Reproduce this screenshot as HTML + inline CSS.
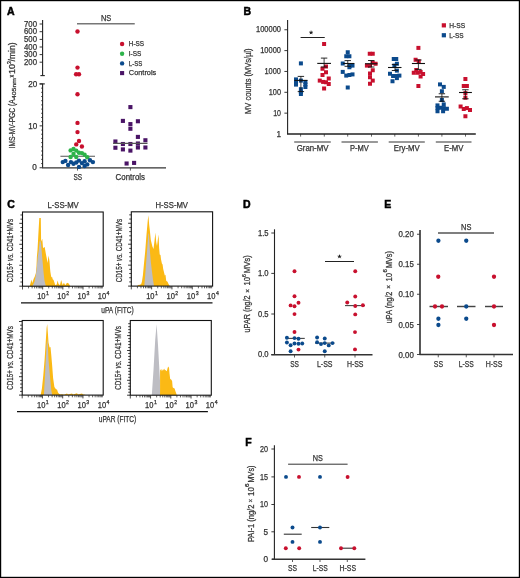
<!DOCTYPE html>
<html><head><meta charset="utf-8"><style>
html,body{margin:0;padding:0;background:#fff;}
body{width:520px;height:578px;overflow:hidden;}
svg{display:block;will-change:transform;font-family:"Liberation Sans", sans-serif;}
</style></head><body>
<svg width="520" height="578" viewBox="0 0 520 578">
<rect x="0" y="0" width="520" height="578" fill="#fff"/>
<text x="7" y="14.6" font-size="10.5" text-anchor="start" fill="#000" font-weight="bold" stroke="#000" stroke-width="0.5">A</text>
<line x1="42.6" y1="20" x2="42.6" y2="75.6" stroke="#222" stroke-width="1.1"/>
<line x1="40.4" y1="75.6" x2="44.8" y2="75.6" stroke="#222" stroke-width="1.1"/>
<line x1="39.6" y1="24" x2="42.6" y2="24" stroke="#222" stroke-width="0.9"/>
<text x="37" y="26.7" font-size="8.2" text-anchor="end" fill="#333" textLength="13" lengthAdjust="spacingAndGlyphs" stroke="#333" stroke-width="0.25">700</text>
<line x1="39.6" y1="31.7" x2="42.6" y2="31.7" stroke="#222" stroke-width="0.9"/>
<text x="37" y="34.4" font-size="8.2" text-anchor="end" fill="#333" textLength="13" lengthAdjust="spacingAndGlyphs" stroke="#333" stroke-width="0.25">600</text>
<line x1="39.6" y1="39.4" x2="42.6" y2="39.4" stroke="#222" stroke-width="0.9"/>
<text x="37" y="42.1" font-size="8.2" text-anchor="end" fill="#333" textLength="13" lengthAdjust="spacingAndGlyphs" stroke="#333" stroke-width="0.25">500</text>
<line x1="39.6" y1="47" x2="42.6" y2="47" stroke="#222" stroke-width="0.9"/>
<text x="37" y="49.7" font-size="8.2" text-anchor="end" fill="#333" textLength="13" lengthAdjust="spacingAndGlyphs" stroke="#333" stroke-width="0.25">400</text>
<line x1="39.6" y1="54.6" x2="42.6" y2="54.6" stroke="#222" stroke-width="0.9"/>
<text x="37" y="57.300000000000004" font-size="8.2" text-anchor="end" fill="#333" textLength="13" lengthAdjust="spacingAndGlyphs" stroke="#333" stroke-width="0.25">300</text>
<line x1="39.6" y1="62.2" x2="42.6" y2="62.2" stroke="#222" stroke-width="0.9"/>
<text x="37" y="64.9" font-size="8.2" text-anchor="end" fill="#333" textLength="13" lengthAdjust="spacingAndGlyphs" stroke="#333" stroke-width="0.25">200</text>
<line x1="42.6" y1="83.8" x2="42.6" y2="167.75" stroke="#222" stroke-width="1.1"/>
<line x1="39.6" y1="83.9" x2="44.8" y2="83.9" stroke="#222" stroke-width="1.1"/>
<line x1="39.6" y1="167.75" x2="42.6" y2="167.75" stroke="#222" stroke-width="0.9"/>
<line x1="41" y1="163.56" x2="42.6" y2="163.56" stroke="#222" stroke-width="0.7"/>
<line x1="41" y1="159.37" x2="42.6" y2="159.37" stroke="#222" stroke-width="0.7"/>
<line x1="41" y1="155.18" x2="42.6" y2="155.18" stroke="#222" stroke-width="0.7"/>
<line x1="41" y1="150.99" x2="42.6" y2="150.99" stroke="#222" stroke-width="0.7"/>
<line x1="41" y1="146.8" x2="42.6" y2="146.8" stroke="#222" stroke-width="0.7"/>
<line x1="41" y1="142.61" x2="42.6" y2="142.61" stroke="#222" stroke-width="0.7"/>
<line x1="41" y1="138.42" x2="42.6" y2="138.42" stroke="#222" stroke-width="0.7"/>
<line x1="41" y1="134.23" x2="42.6" y2="134.23" stroke="#222" stroke-width="0.7"/>
<line x1="41" y1="130.04" x2="42.6" y2="130.04" stroke="#222" stroke-width="0.7"/>
<line x1="39.6" y1="125.85" x2="42.6" y2="125.85" stroke="#222" stroke-width="0.9"/>
<line x1="41" y1="121.66" x2="42.6" y2="121.66" stroke="#222" stroke-width="0.7"/>
<line x1="41" y1="117.47" x2="42.6" y2="117.47" stroke="#222" stroke-width="0.7"/>
<line x1="41" y1="113.28" x2="42.6" y2="113.28" stroke="#222" stroke-width="0.7"/>
<line x1="41" y1="109.09" x2="42.6" y2="109.09" stroke="#222" stroke-width="0.7"/>
<line x1="41" y1="104.89999999999999" x2="42.6" y2="104.89999999999999" stroke="#222" stroke-width="0.7"/>
<line x1="41" y1="100.71" x2="42.6" y2="100.71" stroke="#222" stroke-width="0.7"/>
<line x1="41" y1="96.52" x2="42.6" y2="96.52" stroke="#222" stroke-width="0.7"/>
<line x1="41" y1="92.33" x2="42.6" y2="92.33" stroke="#222" stroke-width="0.7"/>
<line x1="41" y1="88.13999999999999" x2="42.6" y2="88.13999999999999" stroke="#222" stroke-width="0.7"/>
<line x1="39.6" y1="83.94999999999999" x2="42.6" y2="83.94999999999999" stroke="#222" stroke-width="0.9"/>
<text x="37.2" y="86.7" font-size="8.2" text-anchor="end" fill="#333" textLength="9" lengthAdjust="spacingAndGlyphs" stroke="#333" stroke-width="0.25">20</text>
<text x="37.2" y="128.6" font-size="8.2" text-anchor="end" fill="#333" textLength="9" lengthAdjust="spacingAndGlyphs" stroke="#333" stroke-width="0.25">10</text>
<text x="36.8" y="170.45" font-size="8.2" text-anchor="end" fill="#333" stroke="#333" stroke-width="0.25">0</text>
<line x1="42.1" y1="167.9" x2="166" y2="167.9" stroke="#333" stroke-width="1.4"/>
<line x1="77.5" y1="167.9" x2="77.5" y2="170.6" stroke="#333" stroke-width="0.8"/>
<line x1="130.4" y1="167.9" x2="130.4" y2="170.6" stroke="#333" stroke-width="0.8"/>
<text x="77.7" y="179.8" font-size="8.2" text-anchor="middle" fill="#333" textLength="8.6" lengthAdjust="spacingAndGlyphs" stroke="#333" stroke-width="0.25">SS</text>
<text x="130.3" y="179.8" font-size="8.2" text-anchor="middle" fill="#333" textLength="29.4" lengthAdjust="spacingAndGlyphs" stroke="#333" stroke-width="0.25">Controls</text>
<line x1="77" y1="23.8" x2="134.75" y2="23.8" stroke="#777" stroke-width="1.5"/>
<text x="106.1" y="20.7" font-size="8.2" text-anchor="middle" fill="#333" textLength="10.3" lengthAdjust="spacingAndGlyphs" stroke="#333" stroke-width="0.25">NS</text>
<text x="0" y="0" font-size="8.4" fill="#333" stroke="#333" stroke-width="0.25" transform="translate(15.2 148.3) rotate(-90)" textLength="48.90" lengthAdjust="spacingAndGlyphs">IMS-MV-PGC (A</text>
<text x="0" y="0" font-size="5.2" fill="#333" stroke="#333" stroke-width="0.25" transform="translate(15.8 98.9) rotate(-90)" textLength="20.70" lengthAdjust="spacingAndGlyphs">405nm</text>
<text x="0" y="0" font-size="8.4" fill="#333" stroke="#333" stroke-width="0.25" transform="translate(15.2 77.8) rotate(-90)" textLength="3.20" lengthAdjust="spacingAndGlyphs">×</text>
<text x="0" y="0" font-size="8.4" fill="#333" stroke="#333" stroke-width="0.25" transform="translate(15.2 74.0) rotate(-90)" textLength="10.00" lengthAdjust="spacingAndGlyphs">10</text>
<text x="0" y="0" font-size="5.2" fill="#333" stroke="#333" stroke-width="0.25" transform="translate(10.9 64.0) rotate(-90)" textLength="2.80" lengthAdjust="spacingAndGlyphs">3</text>
<text x="0" y="0" font-size="8.4" fill="#333" stroke="#333" stroke-width="0.25" transform="translate(15.2 61.4) rotate(-90)" textLength="19.00" lengthAdjust="spacingAndGlyphs">/min)</text>
<circle cx="122.1" cy="44.0" r="2.2" fill="#C8102E"/>
<text x="128.8" y="46.2" font-size="7.3" text-anchor="start" fill="#333" textLength="15.3" lengthAdjust="spacingAndGlyphs" stroke="#333" stroke-width="0.25">H-SS</text>
<circle cx="122.1" cy="53.8" r="2.2" fill="#2DB34A"/>
<text x="128.8" y="56.0" font-size="7.3" text-anchor="start" fill="#333" textLength="12.5" lengthAdjust="spacingAndGlyphs" stroke="#333" stroke-width="0.25">I-SS</text>
<circle cx="122.1" cy="63.4" r="2.2" fill="#0B4A8C"/>
<text x="128.8" y="65.6" font-size="7.3" text-anchor="start" fill="#333" textLength="13.5" lengthAdjust="spacingAndGlyphs" stroke="#333" stroke-width="0.25">L-SS</text>
<rect x="120.05" y="71.05" width="4.1" height="4.1" fill="#4A1466"/>
<text x="128.8" y="75.3" font-size="7.3" text-anchor="start" fill="#333" textLength="27.5" lengthAdjust="spacingAndGlyphs" stroke="#333" stroke-width="0.25">Controls</text>
<circle cx="77.5" cy="31.5" r="2.2" fill="#C8102E"/>
<circle cx="77.5" cy="67.6" r="2.2" fill="#C8102E"/>
<circle cx="76.1" cy="74.3" r="2.2" fill="#C8102E"/>
<circle cx="79" cy="74.3" r="2.2" fill="#C8102E"/>
<circle cx="77.5" cy="94.3" r="2.2" fill="#C8102E"/>
<circle cx="77.5" cy="122.9" r="2.2" fill="#C8102E"/>
<circle cx="77.5" cy="132.1" r="2.2" fill="#C8102E"/>
<circle cx="79" cy="141" r="2.2" fill="#C8102E"/>
<circle cx="76.25" cy="144.4" r="2.2" fill="#C8102E"/>
<circle cx="81.9" cy="146.5" r="2.2" fill="#C8102E"/>
<line x1="60.4" y1="156.25" x2="95" y2="156.25" stroke="#555" stroke-width="1.2"/>
<circle cx="70.6" cy="150.4" r="2.2" fill="#2DB34A"/>
<circle cx="73.5" cy="149" r="2.2" fill="#2DB34A"/>
<circle cx="76.25" cy="150.6" r="2.2" fill="#2DB34A"/>
<circle cx="79" cy="152.75" r="2.2" fill="#2DB34A"/>
<circle cx="81.9" cy="153.1" r="2.2" fill="#2DB34A"/>
<circle cx="84.6" cy="154.75" r="2.2" fill="#2DB34A"/>
<circle cx="87.25" cy="157.25" r="2.2" fill="#2DB34A"/>
<circle cx="73.5" cy="154" r="2.2" fill="#2DB34A"/>
<circle cx="70.6" cy="157" r="2.2" fill="#2DB34A"/>
<circle cx="76.25" cy="157" r="2.2" fill="#2DB34A"/>
<circle cx="62.75" cy="162.1" r="2.2" fill="#0B4A8C"/>
<circle cx="65.4" cy="160.9" r="2.2" fill="#0B4A8C"/>
<circle cx="68.1" cy="165" r="2.2" fill="#0B4A8C"/>
<circle cx="70.9" cy="162.1" r="2.2" fill="#0B4A8C"/>
<circle cx="73.5" cy="163.75" r="2.2" fill="#0B4A8C"/>
<circle cx="76.25" cy="162.5" r="2.2" fill="#0B4A8C"/>
<circle cx="79" cy="160.6" r="2.2" fill="#0B4A8C"/>
<circle cx="79" cy="166.9" r="2.2" fill="#0B4A8C"/>
<circle cx="81.9" cy="163.1" r="2.2" fill="#0B4A8C"/>
<circle cx="84.6" cy="161.25" r="2.2" fill="#0B4A8C"/>
<circle cx="84.6" cy="166" r="2.2" fill="#0B4A8C"/>
<circle cx="87.25" cy="164.4" r="2.2" fill="#0B4A8C"/>
<circle cx="90" cy="160.25" r="2.2" fill="#0B4A8C"/>
<circle cx="92.9" cy="162.1" r="2.2" fill="#0B4A8C"/>
<rect x="128.35" y="105.05" width="4.1" height="4.1" fill="#4A1466"/>
<rect x="120.85" y="118.85" width="4.1" height="4.1" fill="#4A1466"/>
<rect x="135.85" y="119.20" width="4.1" height="4.1" fill="#4A1466"/>
<rect x="128.35" y="122.05" width="4.1" height="4.1" fill="#4A1466"/>
<rect x="128.35" y="126.70" width="4.1" height="4.1" fill="#4A1466"/>
<rect x="135.85" y="134.85" width="4.1" height="4.1" fill="#4A1466"/>
<rect x="113.35" y="139.45" width="4.1" height="4.1" fill="#4A1466"/>
<rect x="143.35" y="138.20" width="4.1" height="4.1" fill="#4A1466"/>
<rect x="120.85" y="141.95" width="4.1" height="4.1" fill="#4A1466"/>
<rect x="128.35" y="141.95" width="4.1" height="4.1" fill="#4A1466"/>
<rect x="135.85" y="141.45" width="4.1" height="4.1" fill="#4A1466"/>
<rect x="135.85" y="145.45" width="4.1" height="4.1" fill="#4A1466"/>
<rect x="113.35" y="145.70" width="4.1" height="4.1" fill="#4A1466"/>
<rect x="120.85" y="147.35" width="4.1" height="4.1" fill="#4A1466"/>
<rect x="128.35" y="148.55" width="4.1" height="4.1" fill="#4A1466"/>
<rect x="143.35" y="145.45" width="4.1" height="4.1" fill="#4A1466"/>
<rect x="124.55" y="161.45" width="4.1" height="4.1" fill="#4A1466"/>
<rect x="132.05" y="160.85" width="4.1" height="4.1" fill="#4A1466"/>
<line x1="113.1" y1="143.4" x2="147.5" y2="143.4" stroke="#555" stroke-width="1.2"/>
<text x="243.4" y="14.6" font-size="10.5" text-anchor="start" fill="#000" font-weight="bold" stroke="#000" stroke-width="0.5">B</text>
<line x1="287.6" y1="20" x2="287.6" y2="134.3" stroke="#222" stroke-width="1.1"/>
<text x="281" y="136.7" font-size="8.2" text-anchor="end" fill="#333" stroke="#333" stroke-width="0.25">1</text>
<line x1="284.4" y1="113.15" x2="287.6" y2="113.15" stroke="#222" stroke-width="0.9"/>
<text x="281" y="115.85000000000001" font-size="8.2" text-anchor="end" fill="#333" textLength="7.8" lengthAdjust="spacingAndGlyphs" stroke="#333" stroke-width="0.25">10</text>
<line x1="284.4" y1="92.3" x2="287.6" y2="92.3" stroke="#222" stroke-width="0.9"/>
<text x="281" y="95.0" font-size="8.2" text-anchor="end" fill="#333" textLength="12.3" lengthAdjust="spacingAndGlyphs" stroke="#333" stroke-width="0.25">100</text>
<line x1="284.4" y1="71.44999999999999" x2="287.6" y2="71.44999999999999" stroke="#222" stroke-width="0.9"/>
<text x="281" y="74.14999999999999" font-size="8.2" text-anchor="end" fill="#333" textLength="16.5" lengthAdjust="spacingAndGlyphs" stroke="#333" stroke-width="0.25">1000</text>
<line x1="284.4" y1="50.599999999999994" x2="287.6" y2="50.599999999999994" stroke="#222" stroke-width="0.9"/>
<text x="281" y="53.3" font-size="8.2" text-anchor="end" fill="#333" textLength="20.8" lengthAdjust="spacingAndGlyphs" stroke="#333" stroke-width="0.25">10000</text>
<line x1="284.4" y1="29.75" x2="287.6" y2="29.75" stroke="#222" stroke-width="0.9"/>
<text x="281" y="32.45" font-size="8.2" text-anchor="end" fill="#333" textLength="25" lengthAdjust="spacingAndGlyphs" stroke="#333" stroke-width="0.25">100000</text>
<line x1="287.1" y1="134" x2="475.8" y2="134" stroke="#222" stroke-width="1.3"/>
<line x1="300.6" y1="134" x2="300.6" y2="136.6" stroke="#222" stroke-width="0.7"/>
<line x1="324.3" y1="134" x2="324.3" y2="136.6" stroke="#222" stroke-width="0.7"/>
<line x1="347.7" y1="134" x2="347.7" y2="136.6" stroke="#222" stroke-width="0.7"/>
<line x1="371.5" y1="134" x2="371.5" y2="136.6" stroke="#222" stroke-width="0.7"/>
<line x1="394.8" y1="134" x2="394.8" y2="136.6" stroke="#222" stroke-width="0.7"/>
<line x1="418.4" y1="134" x2="418.4" y2="136.6" stroke="#222" stroke-width="0.7"/>
<line x1="441.9" y1="134" x2="441.9" y2="136.6" stroke="#222" stroke-width="0.7"/>
<line x1="465.5" y1="134" x2="465.5" y2="136.6" stroke="#222" stroke-width="0.7"/>
<line x1="294.2" y1="142" x2="330.8" y2="142" stroke="#777" stroke-width="1.3"/>
<line x1="341.5" y1="142" x2="377.9" y2="142" stroke="#777" stroke-width="1.3"/>
<line x1="388.7" y1="142" x2="424.8" y2="142" stroke="#777" stroke-width="1.3"/>
<line x1="435.8" y1="142" x2="471.5" y2="142" stroke="#777" stroke-width="1.3"/>
<text x="312.6" y="151.1" font-size="8.2" text-anchor="middle" fill="#333" textLength="31.8" lengthAdjust="spacingAndGlyphs" stroke="#333" stroke-width="0.25">Gran-MV</text>
<text x="359.4" y="151.1" font-size="8.2" text-anchor="middle" fill="#333" textLength="18.8" lengthAdjust="spacingAndGlyphs" stroke="#333" stroke-width="0.25">P-MV</text>
<text x="406.8" y="151.1" font-size="8.2" text-anchor="middle" fill="#333" textLength="26" lengthAdjust="spacingAndGlyphs" stroke="#333" stroke-width="0.25">Ery-MV</text>
<text x="453.65" y="151.1" font-size="8.2" text-anchor="middle" fill="#333" textLength="19.3" lengthAdjust="spacingAndGlyphs" stroke="#333" stroke-width="0.25">E-MV</text>
<text x="0" y="0" font-size="9.0" fill="#333" stroke="#333" stroke-width="0.25" transform="translate(251.0 113.9) rotate(-90)" textLength="65.4" lengthAdjust="spacingAndGlyphs">MV counts (MVs/µl)</text>
<line x1="300.6" y1="37.5" x2="324.75" y2="37.5" stroke="#222" stroke-width="1"/>
<line x1="311.1" y1="32.6" x2="311.10" y2="31.10" stroke="#222" stroke-width="1.0" stroke-linecap="round"/>
<line x1="311.1" y1="32.6" x2="312.53" y2="32.14" stroke="#222" stroke-width="1.0" stroke-linecap="round"/>
<line x1="311.1" y1="32.6" x2="311.98" y2="33.81" stroke="#222" stroke-width="1.0" stroke-linecap="round"/>
<line x1="311.1" y1="32.6" x2="310.22" y2="33.81" stroke="#222" stroke-width="1.0" stroke-linecap="round"/>
<line x1="311.1" y1="32.6" x2="309.67" y2="32.14" stroke="#222" stroke-width="1.0" stroke-linecap="round"/>
<rect x="441.75" y="23.25" width="4.2" height="4.2" fill="#C8102E"/>
<rect x="441.75" y="33.15" width="4.2" height="4.2" fill="#0B4A8C"/>
<text x="449.2" y="27.8" font-size="7.3" text-anchor="start" fill="#333" textLength="15.9" lengthAdjust="spacingAndGlyphs" stroke="#333" stroke-width="0.25">H-SS</text>
<text x="449.2" y="37.7" font-size="7.3" text-anchor="start" fill="#333" textLength="14.4" lengthAdjust="spacingAndGlyphs" stroke="#333" stroke-width="0.25">L-SS</text>
<rect x="298.90" y="61.40" width="4.0" height="4.0" fill="#0B4A8C"/>
<rect x="294.00" y="77.40" width="4.0" height="4.0" fill="#0B4A8C"/>
<rect x="294.00" y="80.00" width="4.0" height="4.0" fill="#0B4A8C"/>
<rect x="294.00" y="82.60" width="4.0" height="4.0" fill="#0B4A8C"/>
<rect x="298.90" y="78.60" width="4.0" height="4.0" fill="#0B4A8C"/>
<rect x="303.40" y="80.00" width="4.0" height="4.0" fill="#0B4A8C"/>
<rect x="303.40" y="82.50" width="4.0" height="4.0" fill="#0B4A8C"/>
<rect x="303.40" y="85.00" width="4.0" height="4.0" fill="#0B4A8C"/>
<rect x="298.90" y="87.20" width="4.0" height="4.0" fill="#0B4A8C"/>
<rect x="298.90" y="90.00" width="4.0" height="4.0" fill="#0B4A8C"/>
<rect x="298.90" y="92.00" width="4.0" height="4.0" fill="#0B4A8C"/>
<line x1="294.4" y1="80.4" x2="307.5" y2="80.4" stroke="#111" stroke-width="1.1"/>
<line x1="300.9" y1="76.4" x2="300.9" y2="91.6" stroke="#111" stroke-width="0.8"/>
<line x1="297.7" y1="76.4" x2="304.09999999999997" y2="76.4" stroke="#111" stroke-width="0.9"/>
<line x1="297.7" y1="91.6" x2="304.09999999999997" y2="91.6" stroke="#111" stroke-width="0.9"/>
<rect x="322.10" y="42.00" width="4.0" height="4.0" fill="#C8102E"/>
<rect x="324.00" y="64.50" width="4.0" height="4.0" fill="#C8102E"/>
<rect x="320.50" y="66.75" width="4.0" height="4.0" fill="#C8102E"/>
<rect x="324.00" y="70.25" width="4.0" height="4.0" fill="#C8102E"/>
<rect x="320.50" y="73.00" width="4.0" height="4.0" fill="#C8102E"/>
<rect x="326.75" y="76.50" width="4.0" height="4.0" fill="#C8102E"/>
<rect x="317.75" y="78.60" width="4.0" height="4.0" fill="#C8102E"/>
<rect x="321.10" y="79.90" width="4.0" height="4.0" fill="#C8102E"/>
<rect x="324.00" y="80.25" width="4.0" height="4.0" fill="#C8102E"/>
<rect x="326.75" y="82.00" width="4.0" height="4.0" fill="#C8102E"/>
<rect x="322.10" y="86.50" width="4.0" height="4.0" fill="#C8102E"/>
<line x1="317.25" y1="63.4" x2="331" y2="63.4" stroke="#111" stroke-width="1.1"/>
<line x1="324.1" y1="58.1" x2="324.1" y2="67" stroke="#111" stroke-width="0.8"/>
<line x1="320.90000000000003" y1="58.1" x2="327.3" y2="58.1" stroke="#111" stroke-width="0.9"/>
<line x1="320.90000000000003" y1="67" x2="327.3" y2="67" stroke="#111" stroke-width="0.9"/>
<rect x="345.75" y="50.25" width="4.0" height="4.0" fill="#0B4A8C"/>
<rect x="344.25" y="54.25" width="4.0" height="4.0" fill="#0B4A8C"/>
<rect x="347.40" y="54.25" width="4.0" height="4.0" fill="#0B4A8C"/>
<rect x="340.75" y="61.50" width="4.0" height="4.0" fill="#0B4A8C"/>
<rect x="348.00" y="63.60" width="4.0" height="4.0" fill="#0B4A8C"/>
<rect x="350.50" y="63.60" width="4.0" height="4.0" fill="#0B4A8C"/>
<rect x="347.40" y="65.25" width="4.0" height="4.0" fill="#0B4A8C"/>
<rect x="340.75" y="69.90" width="4.0" height="4.0" fill="#0B4A8C"/>
<rect x="344.25" y="73.60" width="4.0" height="4.0" fill="#0B4A8C"/>
<rect x="347.40" y="73.00" width="4.0" height="4.0" fill="#0B4A8C"/>
<rect x="350.50" y="72.40" width="4.0" height="4.0" fill="#0B4A8C"/>
<rect x="345.75" y="85.50" width="4.0" height="4.0" fill="#0B4A8C"/>
<line x1="343.1" y1="63.5" x2="354.4" y2="63.5" stroke="#111" stroke-width="1.1"/>
<line x1="347.75" y1="60.6" x2="347.75" y2="66.3" stroke="#111" stroke-width="0.8"/>
<line x1="344.55" y1="60.6" x2="350.95" y2="60.6" stroke="#111" stroke-width="0.9"/>
<line x1="344.55" y1="66.3" x2="350.95" y2="66.3" stroke="#111" stroke-width="0.9"/>
<rect x="367.75" y="51.75" width="4.0" height="4.0" fill="#C8102E"/>
<rect x="370.75" y="51.75" width="4.0" height="4.0" fill="#C8102E"/>
<rect x="370.75" y="60.75" width="4.0" height="4.0" fill="#C8102E"/>
<rect x="373.60" y="61.75" width="4.0" height="4.0" fill="#C8102E"/>
<rect x="364.90" y="63.60" width="4.0" height="4.0" fill="#C8102E"/>
<rect x="368.00" y="63.60" width="4.0" height="4.0" fill="#C8102E"/>
<rect x="370.75" y="68.25" width="4.0" height="4.0" fill="#C8102E"/>
<rect x="368.00" y="71.50" width="4.0" height="4.0" fill="#C8102E"/>
<rect x="368.00" y="75.25" width="4.0" height="4.0" fill="#C8102E"/>
<rect x="370.75" y="78.60" width="4.0" height="4.0" fill="#C8102E"/>
<rect x="368.00" y="81.75" width="4.0" height="4.0" fill="#C8102E"/>
<line x1="365" y1="63.75" x2="377.5" y2="63.75" stroke="#111" stroke-width="1.1"/>
<line x1="371.25" y1="60.5" x2="371.25" y2="67" stroke="#111" stroke-width="0.8"/>
<line x1="368.05" y1="60.5" x2="374.45" y2="60.5" stroke="#111" stroke-width="0.9"/>
<line x1="368.05" y1="67" x2="374.45" y2="67" stroke="#111" stroke-width="0.9"/>
<rect x="391.75" y="57.00" width="4.0" height="4.0" fill="#0B4A8C"/>
<rect x="394.25" y="57.00" width="4.0" height="4.0" fill="#0B4A8C"/>
<rect x="394.90" y="61.75" width="4.0" height="4.0" fill="#0B4A8C"/>
<rect x="392.40" y="63.60" width="4.0" height="4.0" fill="#0B4A8C"/>
<rect x="394.90" y="68.60" width="4.0" height="4.0" fill="#0B4A8C"/>
<rect x="388.00" y="71.75" width="4.0" height="4.0" fill="#0B4A8C"/>
<rect x="391.10" y="74.00" width="4.0" height="4.0" fill="#0B4A8C"/>
<rect x="394.25" y="74.00" width="4.0" height="4.0" fill="#0B4A8C"/>
<rect x="397.40" y="73.60" width="4.0" height="4.0" fill="#0B4A8C"/>
<rect x="394.90" y="76.10" width="4.0" height="4.0" fill="#0B4A8C"/>
<rect x="390.50" y="79.25" width="4.0" height="4.0" fill="#0B4A8C"/>
<line x1="388" y1="67.5" x2="401.5" y2="67.5" stroke="#111" stroke-width="1.1"/>
<line x1="395" y1="64.5" x2="395" y2="70.5" stroke="#111" stroke-width="0.8"/>
<line x1="391.8" y1="64.5" x2="398.2" y2="64.5" stroke="#111" stroke-width="0.9"/>
<line x1="391.8" y1="70.5" x2="398.2" y2="70.5" stroke="#111" stroke-width="0.9"/>
<rect x="416.40" y="45.90" width="4.0" height="4.0" fill="#C8102E"/>
<rect x="413.60" y="57.75" width="4.0" height="4.0" fill="#C8102E"/>
<rect x="416.75" y="59.25" width="4.0" height="4.0" fill="#C8102E"/>
<rect x="414.25" y="68.00" width="4.0" height="4.0" fill="#C8102E"/>
<rect x="411.75" y="70.75" width="4.0" height="4.0" fill="#C8102E"/>
<rect x="415.50" y="70.75" width="4.0" height="4.0" fill="#C8102E"/>
<rect x="418.60" y="69.90" width="4.0" height="4.0" fill="#C8102E"/>
<rect x="421.10" y="72.00" width="4.0" height="4.0" fill="#C8102E"/>
<rect x="418.60" y="74.50" width="4.0" height="4.0" fill="#C8102E"/>
<rect x="416.40" y="84.00" width="4.0" height="4.0" fill="#C8102E"/>
<line x1="411.9" y1="63.5" x2="425" y2="63.5" stroke="#111" stroke-width="1.1"/>
<line x1="418.4" y1="60" x2="418.4" y2="69.4" stroke="#111" stroke-width="0.8"/>
<line x1="415.2" y1="60" x2="421.59999999999997" y2="60" stroke="#111" stroke-width="0.9"/>
<line x1="415.2" y1="69.4" x2="421.59999999999997" y2="69.4" stroke="#111" stroke-width="0.9"/>
<rect x="438.00" y="82.40" width="4.0" height="4.0" fill="#0B4A8C"/>
<rect x="441.75" y="84.90" width="4.0" height="4.0" fill="#0B4A8C"/>
<rect x="439.90" y="89.25" width="4.0" height="4.0" fill="#0B4A8C"/>
<rect x="439.90" y="98.00" width="4.0" height="4.0" fill="#0B4A8C"/>
<rect x="435.50" y="103.40" width="4.0" height="4.0" fill="#0B4A8C"/>
<rect x="441.75" y="102.40" width="4.0" height="4.0" fill="#0B4A8C"/>
<rect x="435.50" y="106.10" width="4.0" height="4.0" fill="#0B4A8C"/>
<rect x="438.60" y="105.75" width="4.0" height="4.0" fill="#0B4A8C"/>
<rect x="441.75" y="106.10" width="4.0" height="4.0" fill="#0B4A8C"/>
<rect x="444.90" y="106.75" width="4.0" height="4.0" fill="#0B4A8C"/>
<rect x="435.50" y="109.25" width="4.0" height="4.0" fill="#0B4A8C"/>
<rect x="441.10" y="109.25" width="4.0" height="4.0" fill="#0B4A8C"/>
<line x1="435" y1="96.9" x2="448.75" y2="96.9" stroke="#111" stroke-width="1.1"/>
<line x1="441.9" y1="93.75" x2="441.9" y2="101.25" stroke="#111" stroke-width="0.8"/>
<line x1="438.7" y1="93.75" x2="445.09999999999997" y2="93.75" stroke="#111" stroke-width="0.9"/>
<line x1="438.7" y1="101.25" x2="445.09999999999997" y2="101.25" stroke="#111" stroke-width="0.9"/>
<rect x="463.40" y="77.00" width="4.0" height="4.0" fill="#C8102E"/>
<rect x="461.75" y="84.00" width="4.0" height="4.0" fill="#C8102E"/>
<rect x="464.90" y="84.00" width="4.0" height="4.0" fill="#C8102E"/>
<rect x="463.40" y="91.10" width="4.0" height="4.0" fill="#C8102E"/>
<rect x="463.40" y="95.75" width="4.0" height="4.0" fill="#C8102E"/>
<rect x="458.60" y="104.50" width="4.0" height="4.0" fill="#C8102E"/>
<rect x="461.75" y="107.00" width="4.0" height="4.0" fill="#C8102E"/>
<rect x="464.90" y="106.10" width="4.0" height="4.0" fill="#C8102E"/>
<rect x="468.00" y="108.00" width="4.0" height="4.0" fill="#C8102E"/>
<rect x="463.40" y="114.25" width="4.0" height="4.0" fill="#C8102E"/>
<line x1="459" y1="92.5" x2="471.9" y2="92.5" stroke="#111" stroke-width="1.1"/>
<line x1="465.4" y1="89.75" x2="465.4" y2="98.75" stroke="#111" stroke-width="0.8"/>
<line x1="462.2" y1="89.75" x2="468.59999999999997" y2="89.75" stroke="#111" stroke-width="0.9"/>
<line x1="462.2" y1="98.75" x2="468.59999999999997" y2="98.75" stroke="#111" stroke-width="0.9"/>
<text x="7.3" y="207.6" font-size="10.5" text-anchor="start" fill="#000" font-weight="bold" stroke="#000" stroke-width="0.5">C</text>
<text x="63.1" y="208.2" font-size="8.2" text-anchor="middle" fill="#333" textLength="31.3" lengthAdjust="spacingAndGlyphs" stroke="#333" stroke-width="0.25">L-SS-MV</text>
<text x="171.75" y="208.2" font-size="8.2" text-anchor="middle" fill="#333" textLength="32.5" lengthAdjust="spacingAndGlyphs" stroke="#333" stroke-width="0.25">H-SS-MV</text>
<polygon points="29.60,286.20 30.60,283.00 31.30,279.60 32.25,282.90 33.60,279.00 34.90,276.30 35.90,273.00 36.50,266.40 36.90,256.60 37.50,250.00 38.50,231.70 39.30,218.00 40.80,218.00 41.10,241.40 42.30,238.70 43.00,247.50 43.60,248.00 44.60,246.80 45.20,250.00 45.90,254.00 46.80,258.50 47.50,263.00 48.60,255.40 49.50,261.20 50.00,268.00 50.40,272.00 51.30,277.40 52.00,276.50 52.70,279.20 53.60,280.10 54.50,282.80 55.40,285.30 56.70,284.60 57.60,280.60 58.50,283.70 59.90,285.30 61.20,280.10 62.60,285.00 63.90,282.80 65.30,285.30 66.60,283.30 68.00,282.80 69.80,285.30 70.30,286.20" fill="#FBB915"/>
<polygon points="32.40,286.20 34.60,281.60 35.90,275.00 36.90,266.40 37.80,256.60 38.80,250.00 39.60,242.00 40.10,240.30 41.00,243.20 42.30,258.50 43.70,273.80 44.40,280.00 45.00,282.80 45.90,286.20" fill="#BDBDC3"/>
<polygon points="137.50,286.00 138.00,285.00 140.00,284.80 141.20,284.00 141.90,281.70 142.90,275.20 143.90,264.60 145.20,251.50 146.50,234.40 147.80,219.90 148.40,215.30 149.20,225.00 149.80,230.00 150.80,240.00 152.40,246.40 153.50,249.10 154.60,240.00 155.40,232.40 156.20,242.10 157.00,245.90 157.80,240.00 158.60,234.60 159.10,247.50 159.70,254.40 160.50,255.00 161.00,259.30 161.90,263.60 162.60,264.60 163.20,268.90 163.70,271.00 164.80,275.40 165.50,274.80 166.20,280.70 167.50,281.80 168.50,283.90 169.80,285.90 170.20,286.10" fill="#FBB915"/>
<polygon points="144.30,286.00 145.20,275.20 146.50,258.00 147.80,241.00 148.50,233.00 149.00,234.50 149.80,249.60 150.80,261.40 151.90,271.00 153.00,279.60 154.00,286.00" fill="#BDBDC3"/>
<polygon points="40.60,395.00 40.90,393.70 41.90,388.40 43.30,375.30 44.60,359.50 45.60,343.70 46.60,327.90 47.20,324.00 47.90,333.20 48.50,342.40 49.60,347.60 50.50,347.00 51.20,354.20 52.20,366.00 53.10,377.90 54.40,387.10 55.80,389.10 57.10,389.70 58.00,392.40 59.00,393.70 60.40,394.60 62.00,394.20 64.00,394.80 67.00,393.60 68.00,394.60 72.00,393.40 73.00,394.60 77.00,393.20 78.00,394.60 82.00,393.40 83.00,394.60 85.00,394.80 85.50,395.00" fill="#FBB915"/>
<polygon points="43.90,395.00 44.80,379.20 45.60,363.40 46.60,346.30 47.20,338.50 47.90,346.30 48.50,359.50 49.60,372.60 50.50,381.80 51.40,391.00 52.20,395.00" fill="#BDBDC3"/>
<polygon points="151.80,395.20 153.50,370.00 155.20,340.00 156.60,324.20 158.00,345.00 159.50,372.00 160.80,395.20" fill="#BDBDC3"/>
<polygon points="160.07,395.20 160.07,370.60 160.76,369.49 161.45,369.21 161.87,371.29 162.56,369.90 163.25,368.93 163.81,370.60 164.36,368.52 164.91,370.32 165.61,369.90 166.30,371.29 166.99,370.60 167.68,367.83 168.37,366.44 169.07,368.10 169.48,373.36 170.17,378.90 171.14,379.59 172.11,380.98 172.66,387.20 173.49,387.90 174.60,388.59 175.43,391.36 176.26,393.43 176.82,395.20" fill="#FBB915"/>
<rect x="22.5" y="212" width="80.7" height="74.19999999999999" fill="none" stroke="#111" stroke-width="1.1"/>
<line x1="19.3" y1="286.2" x2="22.5" y2="286.2" stroke="#111" stroke-width="0.85"/>
<line x1="20.4" y1="282.01" x2="22.5" y2="282.01" stroke="#111" stroke-width="0.8"/>
<line x1="20.4" y1="277.82" x2="22.5" y2="277.82" stroke="#111" stroke-width="0.8"/>
<line x1="20.4" y1="273.63" x2="22.5" y2="273.63" stroke="#111" stroke-width="0.8"/>
<line x1="20.4" y1="269.44" x2="22.5" y2="269.44" stroke="#111" stroke-width="0.8"/>
<line x1="19.3" y1="265.25" x2="22.5" y2="265.25" stroke="#111" stroke-width="0.85"/>
<line x1="20.4" y1="261.06" x2="22.5" y2="261.06" stroke="#111" stroke-width="0.8"/>
<line x1="20.4" y1="256.87" x2="22.5" y2="256.87" stroke="#111" stroke-width="0.8"/>
<line x1="20.4" y1="252.67999999999998" x2="22.5" y2="252.67999999999998" stroke="#111" stroke-width="0.8"/>
<line x1="20.4" y1="248.48999999999998" x2="22.5" y2="248.48999999999998" stroke="#111" stroke-width="0.8"/>
<line x1="19.3" y1="244.29999999999998" x2="22.5" y2="244.29999999999998" stroke="#111" stroke-width="0.85"/>
<line x1="20.4" y1="240.10999999999999" x2="22.5" y2="240.10999999999999" stroke="#111" stroke-width="0.8"/>
<line x1="20.4" y1="235.92" x2="22.5" y2="235.92" stroke="#111" stroke-width="0.8"/>
<line x1="20.4" y1="231.73" x2="22.5" y2="231.73" stroke="#111" stroke-width="0.8"/>
<line x1="20.4" y1="227.54" x2="22.5" y2="227.54" stroke="#111" stroke-width="0.8"/>
<line x1="19.3" y1="223.34999999999997" x2="22.5" y2="223.34999999999997" stroke="#111" stroke-width="0.85"/>
<line x1="20.4" y1="219.15999999999997" x2="22.5" y2="219.15999999999997" stroke="#111" stroke-width="0.8"/>
<line x1="20.4" y1="214.96999999999997" x2="22.5" y2="214.96999999999997" stroke="#111" stroke-width="0.8"/>
<line x1="22.5" y1="286.2" x2="22.5" y2="289.5" stroke="#222" stroke-width="0.8"/>
<line x1="28.57328016252082" y1="286.2" x2="28.57328016252082" y2="288.4" stroke="#222" stroke-width="0.7"/>
<line x1="32.12592131396919" y1="286.2" x2="32.12592131396919" y2="288.4" stroke="#222" stroke-width="0.7"/>
<line x1="34.64656032504164" y1="286.2" x2="34.64656032504164" y2="288.4" stroke="#222" stroke-width="0.7"/>
<line x1="36.60171983747918" y1="286.2" x2="36.60171983747918" y2="288.4" stroke="#222" stroke-width="0.7"/>
<line x1="38.19920147649001" y1="286.2" x2="38.19920147649001" y2="288.4" stroke="#222" stroke-width="0.7"/>
<line x1="39.54985295728763" y1="286.2" x2="39.54985295728763" y2="288.4" stroke="#222" stroke-width="0.7"/>
<line x1="40.719840487562465" y1="286.2" x2="40.719840487562465" y2="288.4" stroke="#222" stroke-width="0.7"/>
<line x1="41.75184262793838" y1="286.2" x2="41.75184262793838" y2="288.4" stroke="#222" stroke-width="0.7"/>
<line x1="42.675" y1="286.2" x2="42.675" y2="289.5" stroke="#222" stroke-width="0.8"/>
<line x1="48.74828016252082" y1="286.2" x2="48.74828016252082" y2="288.4" stroke="#222" stroke-width="0.7"/>
<line x1="52.30092131396919" y1="286.2" x2="52.30092131396919" y2="288.4" stroke="#222" stroke-width="0.7"/>
<line x1="54.821560325041645" y1="286.2" x2="54.821560325041645" y2="288.4" stroke="#222" stroke-width="0.7"/>
<line x1="56.77671983747918" y1="286.2" x2="56.77671983747918" y2="288.4" stroke="#222" stroke-width="0.7"/>
<line x1="58.374201476490015" y1="286.2" x2="58.374201476490015" y2="288.4" stroke="#222" stroke-width="0.7"/>
<line x1="59.72485295728764" y1="286.2" x2="59.72485295728764" y2="288.4" stroke="#222" stroke-width="0.7"/>
<line x1="60.89484048756246" y1="286.2" x2="60.89484048756246" y2="288.4" stroke="#222" stroke-width="0.7"/>
<line x1="61.92684262793838" y1="286.2" x2="61.92684262793838" y2="288.4" stroke="#222" stroke-width="0.7"/>
<line x1="62.85" y1="286.2" x2="62.85" y2="289.5" stroke="#222" stroke-width="0.8"/>
<line x1="68.92328016252083" y1="286.2" x2="68.92328016252083" y2="288.4" stroke="#222" stroke-width="0.7"/>
<line x1="72.4759213139692" y1="286.2" x2="72.4759213139692" y2="288.4" stroke="#222" stroke-width="0.7"/>
<line x1="74.99656032504164" y1="286.2" x2="74.99656032504164" y2="288.4" stroke="#222" stroke-width="0.7"/>
<line x1="76.95171983747917" y1="286.2" x2="76.95171983747917" y2="288.4" stroke="#222" stroke-width="0.7"/>
<line x1="78.54920147649003" y1="286.2" x2="78.54920147649003" y2="288.4" stroke="#222" stroke-width="0.7"/>
<line x1="79.89985295728764" y1="286.2" x2="79.89985295728764" y2="288.4" stroke="#222" stroke-width="0.7"/>
<line x1="81.06984048756246" y1="286.2" x2="81.06984048756246" y2="288.4" stroke="#222" stroke-width="0.7"/>
<line x1="82.10184262793838" y1="286.2" x2="82.10184262793838" y2="288.4" stroke="#222" stroke-width="0.7"/>
<line x1="83.025" y1="286.2" x2="83.025" y2="289.5" stroke="#222" stroke-width="0.8"/>
<line x1="89.09828016252082" y1="286.2" x2="89.09828016252082" y2="288.4" stroke="#222" stroke-width="0.7"/>
<line x1="92.65092131396919" y1="286.2" x2="92.65092131396919" y2="288.4" stroke="#222" stroke-width="0.7"/>
<line x1="95.17156032504164" y1="286.2" x2="95.17156032504164" y2="288.4" stroke="#222" stroke-width="0.7"/>
<line x1="97.12671983747919" y1="286.2" x2="97.12671983747919" y2="288.4" stroke="#222" stroke-width="0.7"/>
<line x1="98.72420147649002" y1="286.2" x2="98.72420147649002" y2="288.4" stroke="#222" stroke-width="0.7"/>
<line x1="100.07485295728763" y1="286.2" x2="100.07485295728763" y2="288.4" stroke="#222" stroke-width="0.7"/>
<line x1="101.24484048756247" y1="286.2" x2="101.24484048756247" y2="288.4" stroke="#222" stroke-width="0.7"/>
<line x1="102.27684262793838" y1="286.2" x2="102.27684262793838" y2="288.4" stroke="#222" stroke-width="0.7"/>
<text x="41.375" y="298.59999999999997" font-size="8.2" text-anchor="middle" fill="#333" textLength="8.4" lengthAdjust="spacingAndGlyphs" stroke="#333" stroke-width="0.25">10</text>
<text x="46.074999999999996" y="295.4" font-size="5.2" text-anchor="start" fill="#333" stroke="#333" stroke-width="0.25">1</text>
<text x="61.550000000000004" y="298.59999999999997" font-size="8.2" text-anchor="middle" fill="#333" textLength="8.4" lengthAdjust="spacingAndGlyphs" stroke="#333" stroke-width="0.25">10</text>
<text x="66.25" y="295.4" font-size="5.2" text-anchor="start" fill="#333" stroke="#333" stroke-width="0.25">2</text>
<text x="81.72500000000001" y="298.59999999999997" font-size="8.2" text-anchor="middle" fill="#333" textLength="8.4" lengthAdjust="spacingAndGlyphs" stroke="#333" stroke-width="0.25">10</text>
<text x="86.42500000000001" y="295.4" font-size="5.2" text-anchor="start" fill="#333" stroke="#333" stroke-width="0.25">3</text>
<text x="101.9" y="298.59999999999997" font-size="8.2" text-anchor="middle" fill="#333" textLength="8.4" lengthAdjust="spacingAndGlyphs" stroke="#333" stroke-width="0.25">10</text>
<text x="106.60000000000001" y="295.4" font-size="5.2" text-anchor="start" fill="#333" stroke="#333" stroke-width="0.25">4</text>
<text x="0" y="0" font-size="8.8" fill="#333" stroke="#333" stroke-width="0.25" transform="translate(13.2 282.3) rotate(-90)" textLength="19.60" lengthAdjust="spacingAndGlyphs">CD15+</text>
<text x="0" y="0" font-size="8.8" fill="#333" stroke="#333" stroke-width="0.25" font-style="italic" transform="translate(13.2 261.0) rotate(-90)" textLength="8.00" lengthAdjust="spacingAndGlyphs">vs.</text>
<text x="0" y="0" font-size="8.8" fill="#333" stroke="#333" stroke-width="0.25" transform="translate(13.2 251.29999999999998) rotate(-90)" textLength="32.50" lengthAdjust="spacingAndGlyphs">CD41+MVs</text>
<rect x="131.3" y="211.8" width="81.29999999999998" height="74.30000000000001" fill="none" stroke="#111" stroke-width="1.1"/>
<line x1="128.10000000000002" y1="286.1" x2="131.3" y2="286.1" stroke="#111" stroke-width="0.85"/>
<line x1="129.20000000000002" y1="281.91" x2="131.3" y2="281.91" stroke="#111" stroke-width="0.8"/>
<line x1="129.20000000000002" y1="277.72" x2="131.3" y2="277.72" stroke="#111" stroke-width="0.8"/>
<line x1="129.20000000000002" y1="273.53000000000003" x2="131.3" y2="273.53000000000003" stroke="#111" stroke-width="0.8"/>
<line x1="129.20000000000002" y1="269.34000000000003" x2="131.3" y2="269.34000000000003" stroke="#111" stroke-width="0.8"/>
<line x1="128.10000000000002" y1="265.15000000000003" x2="131.3" y2="265.15000000000003" stroke="#111" stroke-width="0.85"/>
<line x1="129.20000000000002" y1="260.96000000000004" x2="131.3" y2="260.96000000000004" stroke="#111" stroke-width="0.8"/>
<line x1="129.20000000000002" y1="256.77000000000004" x2="131.3" y2="256.77000000000004" stroke="#111" stroke-width="0.8"/>
<line x1="129.20000000000002" y1="252.58" x2="131.3" y2="252.58" stroke="#111" stroke-width="0.8"/>
<line x1="129.20000000000002" y1="248.39000000000001" x2="131.3" y2="248.39000000000001" stroke="#111" stroke-width="0.8"/>
<line x1="128.10000000000002" y1="244.20000000000002" x2="131.3" y2="244.20000000000002" stroke="#111" stroke-width="0.85"/>
<line x1="129.20000000000002" y1="240.01000000000002" x2="131.3" y2="240.01000000000002" stroke="#111" stroke-width="0.8"/>
<line x1="129.20000000000002" y1="235.82000000000002" x2="131.3" y2="235.82000000000002" stroke="#111" stroke-width="0.8"/>
<line x1="129.20000000000002" y1="231.63000000000002" x2="131.3" y2="231.63000000000002" stroke="#111" stroke-width="0.8"/>
<line x1="129.20000000000002" y1="227.44000000000003" x2="131.3" y2="227.44000000000003" stroke="#111" stroke-width="0.8"/>
<line x1="128.10000000000002" y1="223.25" x2="131.3" y2="223.25" stroke="#111" stroke-width="0.85"/>
<line x1="129.20000000000002" y1="219.06" x2="131.3" y2="219.06" stroke="#111" stroke-width="0.8"/>
<line x1="129.20000000000002" y1="214.87" x2="131.3" y2="214.87" stroke="#111" stroke-width="0.8"/>
<line x1="131.3" y1="286.1" x2="131.3" y2="289.40000000000003" stroke="#222" stroke-width="0.8"/>
<line x1="137.41843466187044" y1="286.1" x2="137.41843466187044" y2="288.3" stroke="#222" stroke-width="0.7"/>
<line x1="140.99748950217716" y1="286.1" x2="140.99748950217716" y2="288.3" stroke="#222" stroke-width="0.7"/>
<line x1="143.53686932374086" y1="286.1" x2="143.53686932374086" y2="288.3" stroke="#222" stroke-width="0.7"/>
<line x1="145.5065653381296" y1="286.1" x2="145.5065653381296" y2="288.3" stroke="#222" stroke-width="0.7"/>
<line x1="147.11592416404756" y1="286.1" x2="147.11592416404756" y2="288.3" stroke="#222" stroke-width="0.7"/>
<line x1="148.47661766328977" y1="286.1" x2="148.47661766328977" y2="288.3" stroke="#222" stroke-width="0.7"/>
<line x1="149.65530398561125" y1="286.1" x2="149.65530398561125" y2="288.3" stroke="#222" stroke-width="0.7"/>
<line x1="150.69497900435428" y1="286.1" x2="150.69497900435428" y2="288.3" stroke="#222" stroke-width="0.7"/>
<line x1="151.625" y1="286.1" x2="151.625" y2="289.40000000000003" stroke="#222" stroke-width="0.8"/>
<line x1="157.74343466187042" y1="286.1" x2="157.74343466187042" y2="288.3" stroke="#222" stroke-width="0.7"/>
<line x1="161.32248950217715" y1="286.1" x2="161.32248950217715" y2="288.3" stroke="#222" stroke-width="0.7"/>
<line x1="163.86186932374085" y1="286.1" x2="163.86186932374085" y2="288.3" stroke="#222" stroke-width="0.7"/>
<line x1="165.8315653381296" y1="286.1" x2="165.8315653381296" y2="288.3" stroke="#222" stroke-width="0.7"/>
<line x1="167.44092416404754" y1="286.1" x2="167.44092416404754" y2="288.3" stroke="#222" stroke-width="0.7"/>
<line x1="168.8016176632898" y1="286.1" x2="168.8016176632898" y2="288.3" stroke="#222" stroke-width="0.7"/>
<line x1="169.98030398561127" y1="286.1" x2="169.98030398561127" y2="288.3" stroke="#222" stroke-width="0.7"/>
<line x1="171.01997900435427" y1="286.1" x2="171.01997900435427" y2="288.3" stroke="#222" stroke-width="0.7"/>
<line x1="171.95" y1="286.1" x2="171.95" y2="289.40000000000003" stroke="#222" stroke-width="0.8"/>
<line x1="178.0684346618704" y1="286.1" x2="178.0684346618704" y2="288.3" stroke="#222" stroke-width="0.7"/>
<line x1="181.64748950217714" y1="286.1" x2="181.64748950217714" y2="288.3" stroke="#222" stroke-width="0.7"/>
<line x1="184.18686932374084" y1="286.1" x2="184.18686932374084" y2="288.3" stroke="#222" stroke-width="0.7"/>
<line x1="186.15656533812958" y1="286.1" x2="186.15656533812958" y2="288.3" stroke="#222" stroke-width="0.7"/>
<line x1="187.76592416404756" y1="286.1" x2="187.76592416404756" y2="288.3" stroke="#222" stroke-width="0.7"/>
<line x1="189.12661766328978" y1="286.1" x2="189.12661766328978" y2="288.3" stroke="#222" stroke-width="0.7"/>
<line x1="190.30530398561126" y1="286.1" x2="190.30530398561126" y2="288.3" stroke="#222" stroke-width="0.7"/>
<line x1="191.3449790043543" y1="286.1" x2="191.3449790043543" y2="288.3" stroke="#222" stroke-width="0.7"/>
<line x1="192.275" y1="286.1" x2="192.275" y2="289.40000000000003" stroke="#222" stroke-width="0.8"/>
<line x1="198.3934346618704" y1="286.1" x2="198.3934346618704" y2="288.3" stroke="#222" stroke-width="0.7"/>
<line x1="201.97248950217715" y1="286.1" x2="201.97248950217715" y2="288.3" stroke="#222" stroke-width="0.7"/>
<line x1="204.51186932374083" y1="286.1" x2="204.51186932374083" y2="288.3" stroke="#222" stroke-width="0.7"/>
<line x1="206.48156533812957" y1="286.1" x2="206.48156533812957" y2="288.3" stroke="#222" stroke-width="0.7"/>
<line x1="208.09092416404755" y1="286.1" x2="208.09092416404755" y2="288.3" stroke="#222" stroke-width="0.7"/>
<line x1="209.45161766328977" y1="286.1" x2="209.45161766328977" y2="288.3" stroke="#222" stroke-width="0.7"/>
<line x1="210.63030398561125" y1="286.1" x2="210.63030398561125" y2="288.3" stroke="#222" stroke-width="0.7"/>
<line x1="211.66997900435427" y1="286.1" x2="211.66997900435427" y2="288.3" stroke="#222" stroke-width="0.7"/>
<text x="150.325" y="298.5" font-size="8.2" text-anchor="middle" fill="#333" textLength="8.4" lengthAdjust="spacingAndGlyphs" stroke="#333" stroke-width="0.25">10</text>
<text x="155.025" y="295.3" font-size="5.2" text-anchor="start" fill="#333" stroke="#333" stroke-width="0.25">1</text>
<text x="170.64999999999998" y="298.5" font-size="8.2" text-anchor="middle" fill="#333" textLength="8.4" lengthAdjust="spacingAndGlyphs" stroke="#333" stroke-width="0.25">10</text>
<text x="175.35" y="295.3" font-size="5.2" text-anchor="start" fill="#333" stroke="#333" stroke-width="0.25">2</text>
<text x="190.975" y="298.5" font-size="8.2" text-anchor="middle" fill="#333" textLength="8.4" lengthAdjust="spacingAndGlyphs" stroke="#333" stroke-width="0.25">10</text>
<text x="195.675" y="295.3" font-size="5.2" text-anchor="start" fill="#333" stroke="#333" stroke-width="0.25">3</text>
<text x="211.29999999999998" y="298.5" font-size="8.2" text-anchor="middle" fill="#333" textLength="8.4" lengthAdjust="spacingAndGlyphs" stroke="#333" stroke-width="0.25">10</text>
<text x="216.0" y="295.3" font-size="5.2" text-anchor="start" fill="#333" stroke="#333" stroke-width="0.25">4</text>
<text x="0" y="0" font-size="8.8" fill="#333" stroke="#333" stroke-width="0.25" transform="translate(122.00000000000001 282.3) rotate(-90)" textLength="19.60" lengthAdjust="spacingAndGlyphs">CD15+</text>
<text x="0" y="0" font-size="8.8" fill="#333" stroke="#333" stroke-width="0.25" font-style="italic" transform="translate(122.00000000000001 261.0) rotate(-90)" textLength="8.00" lengthAdjust="spacingAndGlyphs">vs.</text>
<text x="0" y="0" font-size="8.8" fill="#333" stroke="#333" stroke-width="0.25" transform="translate(122.00000000000001 251.29999999999998) rotate(-90)" textLength="32.50" lengthAdjust="spacingAndGlyphs">CD41+MVs</text>
<rect x="22.2" y="320.5" width="81.0" height="74.60000000000002" fill="none" stroke="#111" stroke-width="1.1"/>
<line x1="19.0" y1="395.1" x2="22.2" y2="395.1" stroke="#111" stroke-width="0.85"/>
<line x1="20.099999999999998" y1="391.42" x2="22.2" y2="391.42" stroke="#111" stroke-width="0.8"/>
<line x1="20.099999999999998" y1="387.74" x2="22.2" y2="387.74" stroke="#111" stroke-width="0.8"/>
<line x1="20.099999999999998" y1="384.06" x2="22.2" y2="384.06" stroke="#111" stroke-width="0.8"/>
<line x1="20.099999999999998" y1="380.38" x2="22.2" y2="380.38" stroke="#111" stroke-width="0.8"/>
<line x1="19.0" y1="376.70000000000005" x2="22.2" y2="376.70000000000005" stroke="#111" stroke-width="0.85"/>
<line x1="20.099999999999998" y1="373.02000000000004" x2="22.2" y2="373.02000000000004" stroke="#111" stroke-width="0.8"/>
<line x1="20.099999999999998" y1="369.34000000000003" x2="22.2" y2="369.34000000000003" stroke="#111" stroke-width="0.8"/>
<line x1="20.099999999999998" y1="365.66" x2="22.2" y2="365.66" stroke="#111" stroke-width="0.8"/>
<line x1="20.099999999999998" y1="361.98" x2="22.2" y2="361.98" stroke="#111" stroke-width="0.8"/>
<line x1="19.0" y1="358.3" x2="22.2" y2="358.3" stroke="#111" stroke-width="0.85"/>
<line x1="20.099999999999998" y1="354.62" x2="22.2" y2="354.62" stroke="#111" stroke-width="0.8"/>
<line x1="20.099999999999998" y1="350.94" x2="22.2" y2="350.94" stroke="#111" stroke-width="0.8"/>
<line x1="20.099999999999998" y1="347.26" x2="22.2" y2="347.26" stroke="#111" stroke-width="0.8"/>
<line x1="20.099999999999998" y1="343.58000000000004" x2="22.2" y2="343.58000000000004" stroke="#111" stroke-width="0.8"/>
<line x1="19.0" y1="339.90000000000003" x2="22.2" y2="339.90000000000003" stroke="#111" stroke-width="0.85"/>
<line x1="20.099999999999998" y1="336.22" x2="22.2" y2="336.22" stroke="#111" stroke-width="0.8"/>
<line x1="20.099999999999998" y1="332.54" x2="22.2" y2="332.54" stroke="#111" stroke-width="0.8"/>
<line x1="20.099999999999998" y1="328.86" x2="22.2" y2="328.86" stroke="#111" stroke-width="0.8"/>
<line x1="20.099999999999998" y1="325.18" x2="22.2" y2="325.18" stroke="#111" stroke-width="0.8"/>
<line x1="19.0" y1="321.5" x2="22.2" y2="321.5" stroke="#111" stroke-width="0.85"/>
<line x1="22.2" y1="395.1" x2="22.2" y2="398.40000000000003" stroke="#222" stroke-width="0.8"/>
<line x1="28.29585741219562" y1="395.1" x2="28.29585741219562" y2="397.3" stroke="#222" stroke-width="0.7"/>
<line x1="31.861705408073163" y1="395.1" x2="31.861705408073163" y2="397.3" stroke="#222" stroke-width="0.7"/>
<line x1="34.39171482439124" y1="395.1" x2="34.39171482439124" y2="397.3" stroke="#222" stroke-width="0.7"/>
<line x1="36.35414258780438" y1="395.1" x2="36.35414258780438" y2="397.3" stroke="#222" stroke-width="0.7"/>
<line x1="37.957562820268784" y1="395.1" x2="37.957562820268784" y2="397.3" stroke="#222" stroke-width="0.7"/>
<line x1="39.313235310288704" y1="395.1" x2="39.313235310288704" y2="397.3" stroke="#222" stroke-width="0.7"/>
<line x1="40.48757223658686" y1="395.1" x2="40.48757223658686" y2="397.3" stroke="#222" stroke-width="0.7"/>
<line x1="41.523410816146324" y1="395.1" x2="41.523410816146324" y2="397.3" stroke="#222" stroke-width="0.7"/>
<line x1="42.45" y1="395.1" x2="42.45" y2="398.40000000000003" stroke="#222" stroke-width="0.8"/>
<line x1="48.545857412195616" y1="395.1" x2="48.545857412195616" y2="397.3" stroke="#222" stroke-width="0.7"/>
<line x1="52.11170540807316" y1="395.1" x2="52.11170540807316" y2="397.3" stroke="#222" stroke-width="0.7"/>
<line x1="54.641714824391244" y1="395.1" x2="54.641714824391244" y2="397.3" stroke="#222" stroke-width="0.7"/>
<line x1="56.604142587804375" y1="395.1" x2="56.604142587804375" y2="397.3" stroke="#222" stroke-width="0.7"/>
<line x1="58.20756282026878" y1="395.1" x2="58.20756282026878" y2="397.3" stroke="#222" stroke-width="0.7"/>
<line x1="59.563235310288704" y1="395.1" x2="59.563235310288704" y2="397.3" stroke="#222" stroke-width="0.7"/>
<line x1="60.73757223658686" y1="395.1" x2="60.73757223658686" y2="397.3" stroke="#222" stroke-width="0.7"/>
<line x1="61.773410816146324" y1="395.1" x2="61.773410816146324" y2="397.3" stroke="#222" stroke-width="0.7"/>
<line x1="62.7" y1="395.1" x2="62.7" y2="398.40000000000003" stroke="#222" stroke-width="0.8"/>
<line x1="68.79585741219562" y1="395.1" x2="68.79585741219562" y2="397.3" stroke="#222" stroke-width="0.7"/>
<line x1="72.36170540807316" y1="395.1" x2="72.36170540807316" y2="397.3" stroke="#222" stroke-width="0.7"/>
<line x1="74.89171482439124" y1="395.1" x2="74.89171482439124" y2="397.3" stroke="#222" stroke-width="0.7"/>
<line x1="76.85414258780438" y1="395.1" x2="76.85414258780438" y2="397.3" stroke="#222" stroke-width="0.7"/>
<line x1="78.45756282026879" y1="395.1" x2="78.45756282026879" y2="397.3" stroke="#222" stroke-width="0.7"/>
<line x1="79.8132353102887" y1="395.1" x2="79.8132353102887" y2="397.3" stroke="#222" stroke-width="0.7"/>
<line x1="80.98757223658686" y1="395.1" x2="80.98757223658686" y2="397.3" stroke="#222" stroke-width="0.7"/>
<line x1="82.02341081614632" y1="395.1" x2="82.02341081614632" y2="397.3" stroke="#222" stroke-width="0.7"/>
<line x1="82.95" y1="395.1" x2="82.95" y2="398.40000000000003" stroke="#222" stroke-width="0.8"/>
<line x1="89.04585741219562" y1="395.1" x2="89.04585741219562" y2="397.3" stroke="#222" stroke-width="0.7"/>
<line x1="92.61170540807318" y1="395.1" x2="92.61170540807318" y2="397.3" stroke="#222" stroke-width="0.7"/>
<line x1="95.14171482439124" y1="395.1" x2="95.14171482439124" y2="397.3" stroke="#222" stroke-width="0.7"/>
<line x1="97.10414258780439" y1="395.1" x2="97.10414258780439" y2="397.3" stroke="#222" stroke-width="0.7"/>
<line x1="98.70756282026879" y1="395.1" x2="98.70756282026879" y2="397.3" stroke="#222" stroke-width="0.7"/>
<line x1="100.0632353102887" y1="395.1" x2="100.0632353102887" y2="397.3" stroke="#222" stroke-width="0.7"/>
<line x1="101.23757223658687" y1="395.1" x2="101.23757223658687" y2="397.3" stroke="#222" stroke-width="0.7"/>
<line x1="102.27341081614632" y1="395.1" x2="102.27341081614632" y2="397.3" stroke="#222" stroke-width="0.7"/>
<text x="41.150000000000006" y="407.5" font-size="8.2" text-anchor="middle" fill="#333" textLength="8.4" lengthAdjust="spacingAndGlyphs" stroke="#333" stroke-width="0.25">10</text>
<text x="45.85" y="404.3" font-size="5.2" text-anchor="start" fill="#333" stroke="#333" stroke-width="0.25">1</text>
<text x="61.400000000000006" y="407.5" font-size="8.2" text-anchor="middle" fill="#333" textLength="8.4" lengthAdjust="spacingAndGlyphs" stroke="#333" stroke-width="0.25">10</text>
<text x="66.10000000000001" y="404.3" font-size="5.2" text-anchor="start" fill="#333" stroke="#333" stroke-width="0.25">2</text>
<text x="81.65" y="407.5" font-size="8.2" text-anchor="middle" fill="#333" textLength="8.4" lengthAdjust="spacingAndGlyphs" stroke="#333" stroke-width="0.25">10</text>
<text x="86.35000000000001" y="404.3" font-size="5.2" text-anchor="start" fill="#333" stroke="#333" stroke-width="0.25">3</text>
<text x="101.9" y="407.5" font-size="8.2" text-anchor="middle" fill="#333" textLength="8.4" lengthAdjust="spacingAndGlyphs" stroke="#333" stroke-width="0.25">10</text>
<text x="106.60000000000001" y="404.3" font-size="5.2" text-anchor="start" fill="#333" stroke="#333" stroke-width="0.25">4</text>
<text x="0" y="0" font-size="8.8" fill="#333" stroke="#333" stroke-width="0.25" transform="translate(12.899999999999999 389.7) rotate(-90)" textLength="19.60" lengthAdjust="spacingAndGlyphs">CD15+</text>
<text x="0" y="0" font-size="8.8" fill="#333" stroke="#333" stroke-width="0.25" font-style="italic" transform="translate(12.899999999999999 368.4) rotate(-90)" textLength="8.00" lengthAdjust="spacingAndGlyphs">vs.</text>
<text x="0" y="0" font-size="8.8" fill="#333" stroke="#333" stroke-width="0.25" transform="translate(12.899999999999999 358.7) rotate(-90)" textLength="32.50" lengthAdjust="spacingAndGlyphs">CD41+MVs</text>
<rect x="130.3" y="320.5" width="81.0" height="74.69999999999999" fill="none" stroke="#111" stroke-width="1.1"/>
<line x1="127.10000000000001" y1="395.2" x2="130.3" y2="395.2" stroke="#111" stroke-width="0.85"/>
<line x1="128.20000000000002" y1="392.21999999999997" x2="130.3" y2="392.21999999999997" stroke="#111" stroke-width="0.8"/>
<line x1="128.20000000000002" y1="389.24" x2="130.3" y2="389.24" stroke="#111" stroke-width="0.8"/>
<line x1="128.20000000000002" y1="386.26" x2="130.3" y2="386.26" stroke="#111" stroke-width="0.8"/>
<line x1="128.20000000000002" y1="383.28" x2="130.3" y2="383.28" stroke="#111" stroke-width="0.8"/>
<line x1="127.10000000000001" y1="380.3" x2="130.3" y2="380.3" stroke="#111" stroke-width="0.85"/>
<line x1="128.20000000000002" y1="377.32" x2="130.3" y2="377.32" stroke="#111" stroke-width="0.8"/>
<line x1="128.20000000000002" y1="374.34" x2="130.3" y2="374.34" stroke="#111" stroke-width="0.8"/>
<line x1="128.20000000000002" y1="371.36" x2="130.3" y2="371.36" stroke="#111" stroke-width="0.8"/>
<line x1="128.20000000000002" y1="368.38" x2="130.3" y2="368.38" stroke="#111" stroke-width="0.8"/>
<line x1="127.10000000000001" y1="365.4" x2="130.3" y2="365.4" stroke="#111" stroke-width="0.85"/>
<line x1="128.20000000000002" y1="362.41999999999996" x2="130.3" y2="362.41999999999996" stroke="#111" stroke-width="0.8"/>
<line x1="128.20000000000002" y1="359.44" x2="130.3" y2="359.44" stroke="#111" stroke-width="0.8"/>
<line x1="128.20000000000002" y1="356.46" x2="130.3" y2="356.46" stroke="#111" stroke-width="0.8"/>
<line x1="128.20000000000002" y1="353.48" x2="130.3" y2="353.48" stroke="#111" stroke-width="0.8"/>
<line x1="127.10000000000001" y1="350.5" x2="130.3" y2="350.5" stroke="#111" stroke-width="0.85"/>
<line x1="128.20000000000002" y1="347.52" x2="130.3" y2="347.52" stroke="#111" stroke-width="0.8"/>
<line x1="128.20000000000002" y1="344.53999999999996" x2="130.3" y2="344.53999999999996" stroke="#111" stroke-width="0.8"/>
<line x1="128.20000000000002" y1="341.56" x2="130.3" y2="341.56" stroke="#111" stroke-width="0.8"/>
<line x1="128.20000000000002" y1="338.58" x2="130.3" y2="338.58" stroke="#111" stroke-width="0.8"/>
<line x1="127.10000000000001" y1="335.59999999999997" x2="130.3" y2="335.59999999999997" stroke="#111" stroke-width="0.85"/>
<line x1="128.20000000000002" y1="332.62" x2="130.3" y2="332.62" stroke="#111" stroke-width="0.8"/>
<line x1="128.20000000000002" y1="329.64" x2="130.3" y2="329.64" stroke="#111" stroke-width="0.8"/>
<line x1="128.20000000000002" y1="326.65999999999997" x2="130.3" y2="326.65999999999997" stroke="#111" stroke-width="0.8"/>
<line x1="128.20000000000002" y1="323.68" x2="130.3" y2="323.68" stroke="#111" stroke-width="0.8"/>
<line x1="130.3" y1="395.2" x2="130.3" y2="398.5" stroke="#222" stroke-width="0.8"/>
<line x1="136.39585741219562" y1="395.2" x2="136.39585741219562" y2="397.4" stroke="#222" stroke-width="0.7"/>
<line x1="139.9617054080732" y1="395.2" x2="139.9617054080732" y2="397.4" stroke="#222" stroke-width="0.7"/>
<line x1="142.49171482439124" y1="395.2" x2="142.49171482439124" y2="397.4" stroke="#222" stroke-width="0.7"/>
<line x1="144.4541425878044" y1="395.2" x2="144.4541425878044" y2="397.4" stroke="#222" stroke-width="0.7"/>
<line x1="146.0575628202688" y1="395.2" x2="146.0575628202688" y2="397.4" stroke="#222" stroke-width="0.7"/>
<line x1="147.4132353102887" y1="395.2" x2="147.4132353102887" y2="397.4" stroke="#222" stroke-width="0.7"/>
<line x1="148.58757223658688" y1="395.2" x2="148.58757223658688" y2="397.4" stroke="#222" stroke-width="0.7"/>
<line x1="149.62341081614633" y1="395.2" x2="149.62341081614633" y2="397.4" stroke="#222" stroke-width="0.7"/>
<line x1="150.55" y1="395.2" x2="150.55" y2="398.5" stroke="#222" stroke-width="0.8"/>
<line x1="156.64585741219562" y1="395.2" x2="156.64585741219562" y2="397.4" stroke="#222" stroke-width="0.7"/>
<line x1="160.2117054080732" y1="395.2" x2="160.2117054080732" y2="397.4" stroke="#222" stroke-width="0.7"/>
<line x1="162.74171482439124" y1="395.2" x2="162.74171482439124" y2="397.4" stroke="#222" stroke-width="0.7"/>
<line x1="164.7041425878044" y1="395.2" x2="164.7041425878044" y2="397.4" stroke="#222" stroke-width="0.7"/>
<line x1="166.3075628202688" y1="395.2" x2="166.3075628202688" y2="397.4" stroke="#222" stroke-width="0.7"/>
<line x1="167.6632353102887" y1="395.2" x2="167.6632353102887" y2="397.4" stroke="#222" stroke-width="0.7"/>
<line x1="168.83757223658688" y1="395.2" x2="168.83757223658688" y2="397.4" stroke="#222" stroke-width="0.7"/>
<line x1="169.87341081614633" y1="395.2" x2="169.87341081614633" y2="397.4" stroke="#222" stroke-width="0.7"/>
<line x1="170.8" y1="395.2" x2="170.8" y2="398.5" stroke="#222" stroke-width="0.8"/>
<line x1="176.89585741219562" y1="395.2" x2="176.89585741219562" y2="397.4" stroke="#222" stroke-width="0.7"/>
<line x1="180.4617054080732" y1="395.2" x2="180.4617054080732" y2="397.4" stroke="#222" stroke-width="0.7"/>
<line x1="182.99171482439124" y1="395.2" x2="182.99171482439124" y2="397.4" stroke="#222" stroke-width="0.7"/>
<line x1="184.9541425878044" y1="395.2" x2="184.9541425878044" y2="397.4" stroke="#222" stroke-width="0.7"/>
<line x1="186.5575628202688" y1="395.2" x2="186.5575628202688" y2="397.4" stroke="#222" stroke-width="0.7"/>
<line x1="187.9132353102887" y1="395.2" x2="187.9132353102887" y2="397.4" stroke="#222" stroke-width="0.7"/>
<line x1="189.08757223658688" y1="395.2" x2="189.08757223658688" y2="397.4" stroke="#222" stroke-width="0.7"/>
<line x1="190.12341081614633" y1="395.2" x2="190.12341081614633" y2="397.4" stroke="#222" stroke-width="0.7"/>
<line x1="191.05" y1="395.2" x2="191.05" y2="398.5" stroke="#222" stroke-width="0.8"/>
<line x1="197.14585741219562" y1="395.2" x2="197.14585741219562" y2="397.4" stroke="#222" stroke-width="0.7"/>
<line x1="200.7117054080732" y1="395.2" x2="200.7117054080732" y2="397.4" stroke="#222" stroke-width="0.7"/>
<line x1="203.24171482439124" y1="395.2" x2="203.24171482439124" y2="397.4" stroke="#222" stroke-width="0.7"/>
<line x1="205.2041425878044" y1="395.2" x2="205.2041425878044" y2="397.4" stroke="#222" stroke-width="0.7"/>
<line x1="206.8075628202688" y1="395.2" x2="206.8075628202688" y2="397.4" stroke="#222" stroke-width="0.7"/>
<line x1="208.1632353102887" y1="395.2" x2="208.1632353102887" y2="397.4" stroke="#222" stroke-width="0.7"/>
<line x1="209.33757223658688" y1="395.2" x2="209.33757223658688" y2="397.4" stroke="#222" stroke-width="0.7"/>
<line x1="210.37341081614633" y1="395.2" x2="210.37341081614633" y2="397.4" stroke="#222" stroke-width="0.7"/>
<text x="149.25" y="407.59999999999997" font-size="8.2" text-anchor="middle" fill="#333" textLength="8.4" lengthAdjust="spacingAndGlyphs" stroke="#333" stroke-width="0.25">10</text>
<text x="153.95000000000002" y="404.4" font-size="5.2" text-anchor="start" fill="#333" stroke="#333" stroke-width="0.25">1</text>
<text x="169.5" y="407.59999999999997" font-size="8.2" text-anchor="middle" fill="#333" textLength="8.4" lengthAdjust="spacingAndGlyphs" stroke="#333" stroke-width="0.25">10</text>
<text x="174.20000000000002" y="404.4" font-size="5.2" text-anchor="start" fill="#333" stroke="#333" stroke-width="0.25">2</text>
<text x="189.75" y="407.59999999999997" font-size="8.2" text-anchor="middle" fill="#333" textLength="8.4" lengthAdjust="spacingAndGlyphs" stroke="#333" stroke-width="0.25">10</text>
<text x="194.45000000000002" y="404.4" font-size="5.2" text-anchor="start" fill="#333" stroke="#333" stroke-width="0.25">3</text>
<text x="210.0" y="407.59999999999997" font-size="8.2" text-anchor="middle" fill="#333" textLength="8.4" lengthAdjust="spacingAndGlyphs" stroke="#333" stroke-width="0.25">10</text>
<text x="214.70000000000002" y="404.4" font-size="5.2" text-anchor="start" fill="#333" stroke="#333" stroke-width="0.25">4</text>
<text x="0" y="0" font-size="8.8" fill="#333" stroke="#333" stroke-width="0.25" transform="translate(121.00000000000001 389.7) rotate(-90)" textLength="19.60" lengthAdjust="spacingAndGlyphs">CD15+</text>
<text x="0" y="0" font-size="8.8" fill="#333" stroke="#333" stroke-width="0.25" font-style="italic" transform="translate(121.00000000000001 368.4) rotate(-90)" textLength="8.00" lengthAdjust="spacingAndGlyphs">vs.</text>
<text x="0" y="0" font-size="8.8" fill="#333" stroke="#333" stroke-width="0.25" transform="translate(121.00000000000001 358.7) rotate(-90)" textLength="32.50" lengthAdjust="spacingAndGlyphs">CD41+MVs</text>
<line x1="21" y1="302.8" x2="212.5" y2="302.8" stroke="#111" stroke-width="1.2"/>
<line x1="17" y1="411.6" x2="207.9" y2="411.6" stroke="#111" stroke-width="1.2"/>
<text x="117.5" y="313.3" font-size="8.2" text-anchor="middle" fill="#333" textLength="32.5" lengthAdjust="spacingAndGlyphs" stroke="#333" stroke-width="0.25">uPA (FITC)</text>
<text x="117.5" y="422.2" font-size="8.2" text-anchor="middle" fill="#333" textLength="37.5" lengthAdjust="spacingAndGlyphs" stroke="#333" stroke-width="0.25">uPAR (FITC)</text>
<text x="242.9" y="207.6" font-size="10.5" text-anchor="start" fill="#000" font-weight="bold" stroke="#000" stroke-width="0.5">D</text>
<line x1="274.5" y1="229.3" x2="274.5" y2="354.8" stroke="#222" stroke-width="1.1"/>
<line x1="271.3" y1="233" x2="274.5" y2="233" stroke="#222" stroke-width="0.9"/>
<text x="268.6" y="235.7" font-size="8.2" text-anchor="end" fill="#333" textLength="10.6" lengthAdjust="spacingAndGlyphs" stroke="#333" stroke-width="0.25">1.5</text>
<line x1="271.3" y1="273.4" x2="274.5" y2="273.4" stroke="#222" stroke-width="0.9"/>
<text x="268.6" y="276.09999999999997" font-size="8.2" text-anchor="end" fill="#333" textLength="10.6" lengthAdjust="spacingAndGlyphs" stroke="#333" stroke-width="0.25">1.0</text>
<line x1="271.3" y1="314" x2="274.5" y2="314" stroke="#222" stroke-width="0.9"/>
<text x="268.6" y="316.7" font-size="8.2" text-anchor="end" fill="#333" textLength="10.6" lengthAdjust="spacingAndGlyphs" stroke="#333" stroke-width="0.25">0.5</text>
<line x1="271.3" y1="354.6" x2="274.5" y2="354.6" stroke="#222" stroke-width="0.9"/>
<text x="268.6" y="357.3" font-size="8.2" text-anchor="end" fill="#333" textLength="10.6" lengthAdjust="spacingAndGlyphs" stroke="#333" stroke-width="0.25">0.0</text>
<line x1="271.3" y1="354.75" x2="372.5" y2="354.75" stroke="#333" stroke-width="1.4"/>
<line x1="294.5" y1="354.75" x2="294.5" y2="357.5" stroke="#333" stroke-width="0.8"/>
<line x1="324.75" y1="354.75" x2="324.75" y2="357.5" stroke="#333" stroke-width="0.8"/>
<line x1="355" y1="354.75" x2="355" y2="357.5" stroke="#333" stroke-width="0.8"/>
<text x="294.6" y="366.9" font-size="8.2" text-anchor="middle" fill="#333" textLength="8.75" lengthAdjust="spacingAndGlyphs" stroke="#333" stroke-width="0.25">SS</text>
<text x="324.7" y="366.9" font-size="8.2" text-anchor="middle" fill="#333" textLength="15.6" lengthAdjust="spacingAndGlyphs" stroke="#333" stroke-width="0.25">L-SS</text>
<text x="355.2" y="366.9" font-size="8.2" text-anchor="middle" fill="#333" textLength="16.6" lengthAdjust="spacingAndGlyphs" stroke="#333" stroke-width="0.25">H-SS</text>
<line x1="325" y1="261.5" x2="354" y2="261.5" stroke="#222" stroke-width="1"/>
<line x1="339.5" y1="256.6" x2="339.50" y2="255.10" stroke="#222" stroke-width="1.0" stroke-linecap="round"/>
<line x1="339.5" y1="256.6" x2="340.93" y2="256.14" stroke="#222" stroke-width="1.0" stroke-linecap="round"/>
<line x1="339.5" y1="256.6" x2="340.38" y2="257.81" stroke="#222" stroke-width="1.0" stroke-linecap="round"/>
<line x1="339.5" y1="256.6" x2="338.62" y2="257.81" stroke="#222" stroke-width="1.0" stroke-linecap="round"/>
<line x1="339.5" y1="256.6" x2="338.07" y2="256.14" stroke="#222" stroke-width="1.0" stroke-linecap="round"/>
<text x="0" y="0" font-size="8.4" fill="#333" stroke="#333" stroke-width="0.25" transform="translate(250.4 332.4) rotate(-90)" textLength="36.80" lengthAdjust="spacingAndGlyphs">uPAR (ng/2</text>
<text x="0" y="0" font-size="7.0" fill="#333" stroke="#333" stroke-width="0.25" transform="translate(249.8 292.7) rotate(-90)" textLength="3.70" lengthAdjust="spacingAndGlyphs">×</text>
<text x="0" y="0" font-size="8.4" fill="#333" stroke="#333" stroke-width="0.25" transform="translate(250.4 285.4) rotate(-90)" textLength="8.40" lengthAdjust="spacingAndGlyphs">10</text>
<text x="0" y="0" font-size="5.4" fill="#333" stroke="#333" stroke-width="0.25" transform="translate(245.8 276.9) rotate(-90)" textLength="2.90" lengthAdjust="spacingAndGlyphs">6</text>
<text x="0" y="0" font-size="8.4" fill="#333" stroke="#333" stroke-width="0.25" transform="translate(250.4 273.3) rotate(-90)" textLength="18.10" lengthAdjust="spacingAndGlyphs">MVs)</text>
<line x1="288" y1="338.4" x2="304.75" y2="338.4" stroke="#444" stroke-width="1.1"/>
<line x1="315" y1="343.1" x2="334.4" y2="343.1" stroke="#444" stroke-width="1.1"/>
<line x1="345" y1="305.6" x2="365" y2="305.6" stroke="#444" stroke-width="1.1"/>
<circle cx="294.5" cy="271.25" r="1.95" fill="#C8102E"/>
<circle cx="294.5" cy="296.25" r="1.95" fill="#C8102E"/>
<circle cx="290.6" cy="305.4" r="1.95" fill="#C8102E"/>
<circle cx="294.5" cy="306.25" r="1.95" fill="#C8102E"/>
<circle cx="298.5" cy="302.75" r="1.95" fill="#C8102E"/>
<circle cx="294.5" cy="314.1" r="1.95" fill="#C8102E"/>
<circle cx="294.5" cy="332" r="1.95" fill="#C8102E"/>
<circle cx="298.5" cy="349.6" r="1.95" fill="#C8102E"/>
<circle cx="286.9" cy="337.75" r="1.95" fill="#0B4A8C"/>
<circle cx="294.5" cy="338.1" r="1.95" fill="#0B4A8C"/>
<circle cx="298.5" cy="338.75" r="1.95" fill="#0B4A8C"/>
<circle cx="286.9" cy="342.5" r="1.95" fill="#0B4A8C"/>
<circle cx="290.6" cy="345.25" r="1.95" fill="#0B4A8C"/>
<circle cx="294.5" cy="343.5" r="1.95" fill="#0B4A8C"/>
<circle cx="298.5" cy="343.75" r="1.95" fill="#0B4A8C"/>
<circle cx="302.25" cy="343.5" r="1.95" fill="#0B4A8C"/>
<circle cx="290.6" cy="351.25" r="1.95" fill="#0B4A8C"/>
<circle cx="317.1" cy="337.5" r="1.95" fill="#0B4A8C"/>
<circle cx="324.75" cy="338.5" r="1.95" fill="#0B4A8C"/>
<circle cx="317.1" cy="342.25" r="1.95" fill="#0B4A8C"/>
<circle cx="321" cy="344.1" r="1.95" fill="#0B4A8C"/>
<circle cx="324.75" cy="343.1" r="1.95" fill="#0B4A8C"/>
<circle cx="328.75" cy="345.4" r="1.95" fill="#0B4A8C"/>
<circle cx="332.5" cy="343.1" r="1.95" fill="#0B4A8C"/>
<circle cx="324.75" cy="351.25" r="1.95" fill="#0B4A8C"/>
<circle cx="355.25" cy="271.25" r="1.95" fill="#C8102E"/>
<circle cx="355.25" cy="296.5" r="1.95" fill="#C8102E"/>
<circle cx="347.25" cy="302.5" r="1.95" fill="#C8102E"/>
<circle cx="355.25" cy="306" r="1.95" fill="#C8102E"/>
<circle cx="362.9" cy="305.25" r="1.95" fill="#C8102E"/>
<circle cx="355.25" cy="314.4" r="1.95" fill="#C8102E"/>
<circle cx="355" cy="332.1" r="1.95" fill="#C8102E"/>
<circle cx="355" cy="349.4" r="1.95" fill="#C8102E"/>
<text x="384.2" y="207.6" font-size="10.5" text-anchor="start" fill="#000" font-weight="bold" stroke="#000" stroke-width="0.5">E</text>
<line x1="420" y1="230" x2="420" y2="354.6" stroke="#3a3a3a" stroke-width="1.7"/>
<line x1="417" y1="234.25" x2="420" y2="234.25" stroke="#333" stroke-width="0.9"/>
<text x="413.8" y="237.25" font-size="8.2" text-anchor="end" fill="#333" textLength="15.3" lengthAdjust="spacingAndGlyphs" stroke="#333" stroke-width="0.25">0.20</text>
<line x1="417" y1="264.25" x2="420" y2="264.25" stroke="#333" stroke-width="0.9"/>
<text x="413.8" y="267.25" font-size="8.2" text-anchor="end" fill="#333" textLength="15.3" lengthAdjust="spacingAndGlyphs" stroke="#333" stroke-width="0.25">0.15</text>
<line x1="417" y1="294.25" x2="420" y2="294.25" stroke="#333" stroke-width="0.9"/>
<text x="413.8" y="297.25" font-size="8.2" text-anchor="end" fill="#333" textLength="15.3" lengthAdjust="spacingAndGlyphs" stroke="#333" stroke-width="0.25">0.10</text>
<line x1="417" y1="324.5" x2="420" y2="324.5" stroke="#333" stroke-width="0.9"/>
<text x="413.8" y="327.5" font-size="8.2" text-anchor="end" fill="#333" textLength="15.3" lengthAdjust="spacingAndGlyphs" stroke="#333" stroke-width="0.25">0.05</text>
<line x1="417" y1="354.5" x2="420" y2="354.5" stroke="#333" stroke-width="0.9"/>
<text x="413.8" y="357.5" font-size="8.2" text-anchor="end" fill="#333" textLength="15.3" lengthAdjust="spacingAndGlyphs" stroke="#333" stroke-width="0.25">0.00</text>
<line x1="419.5" y1="354.5" x2="513" y2="354.5" stroke="#333" stroke-width="1.4"/>
<line x1="438.25" y1="354.5" x2="438.25" y2="357.3" stroke="#333" stroke-width="0.8"/>
<line x1="466.25" y1="354.5" x2="466.25" y2="357.3" stroke="#333" stroke-width="0.8"/>
<line x1="494" y1="354.5" x2="494" y2="357.3" stroke="#333" stroke-width="0.8"/>
<text x="438.4" y="366.8" font-size="8.2" text-anchor="middle" fill="#333" textLength="9.25" lengthAdjust="spacingAndGlyphs" stroke="#333" stroke-width="0.25">SS</text>
<text x="466.25" y="366.8" font-size="8.2" text-anchor="middle" fill="#333" textLength="15" lengthAdjust="spacingAndGlyphs" stroke="#333" stroke-width="0.25">L-SS</text>
<text x="494.1" y="366.8" font-size="8.2" text-anchor="middle" fill="#333" textLength="16.75" lengthAdjust="spacingAndGlyphs" stroke="#333" stroke-width="0.25">H-SS</text>
<line x1="438" y1="233" x2="494" y2="233" stroke="#555" stroke-width="1.3"/>
<text x="466.25" y="229.6" font-size="8.2" text-anchor="middle" fill="#333" textLength="10.3" lengthAdjust="spacingAndGlyphs" stroke="#333" stroke-width="0.25">NS</text>
<text x="0" y="0" font-size="8.4" fill="#333" stroke="#333" stroke-width="0.25" transform="translate(391.7 323.3) rotate(-90)" textLength="31.70" lengthAdjust="spacingAndGlyphs">uPA (ng/2</text>
<text x="0" y="0" font-size="7.0" fill="#333" stroke="#333" stroke-width="0.25" transform="translate(391.09999999999997 288.7) rotate(-90)" textLength="3.70" lengthAdjust="spacingAndGlyphs">×</text>
<text x="0" y="0" font-size="8.4" fill="#333" stroke="#333" stroke-width="0.25" transform="translate(391.7 281.6) rotate(-90)" textLength="8.60" lengthAdjust="spacingAndGlyphs">10</text>
<text x="0" y="0" font-size="5.4" fill="#333" stroke="#333" stroke-width="0.25" transform="translate(387.09999999999997 272.5) rotate(-90)" textLength="3.50" lengthAdjust="spacingAndGlyphs">6</text>
<text x="0" y="0" font-size="8.4" fill="#333" stroke="#333" stroke-width="0.25" transform="translate(391.7 268.1) rotate(-90)" textLength="16.90" lengthAdjust="spacingAndGlyphs">MVs)</text>
<line x1="429.5" y1="306.5" x2="448" y2="306.5" stroke="#444" stroke-width="1.45"/>
<line x1="457" y1="306.5" x2="475.5" y2="306.5" stroke="#444" stroke-width="1.45"/>
<line x1="485" y1="306.5" x2="503" y2="306.5" stroke="#444" stroke-width="1.45"/>
<circle cx="438.25" cy="276.75" r="2.15" fill="#C8102E"/>
<circle cx="494" cy="276.75" r="2.15" fill="#C8102E"/>
<circle cx="435" cy="306.5" r="2.15" fill="#C8102E"/>
<circle cx="442" cy="306.5" r="2.15" fill="#C8102E"/>
<circle cx="494" cy="306.5" r="2.15" fill="#C8102E"/>
<circle cx="494" cy="325" r="2.15" fill="#C8102E"/>
<circle cx="438.4" cy="240.75" r="2.15" fill="#0B4A8C"/>
<circle cx="466.25" cy="240.75" r="2.15" fill="#0B4A8C"/>
<circle cx="438.4" cy="318.75" r="2.15" fill="#0B4A8C"/>
<circle cx="438.4" cy="325" r="2.15" fill="#0B4A8C"/>
<circle cx="466.25" cy="306.5" r="2.15" fill="#0B4A8C"/>
<circle cx="466.25" cy="318.75" r="2.15" fill="#0B4A8C"/>
<text x="245.3" y="445.7" font-size="10.5" text-anchor="start" fill="#000" font-weight="bold" stroke="#000" stroke-width="0.5">F</text>
<line x1="274.4" y1="445.3" x2="274.4" y2="559.3" stroke="#222" stroke-width="1.1"/>
<line x1="271.4" y1="449" x2="274.4" y2="449" stroke="#222" stroke-width="0.9"/>
<text x="268.1" y="451.7" font-size="8.2" text-anchor="end" fill="#333" textLength="8" lengthAdjust="spacingAndGlyphs" stroke="#333" stroke-width="0.25">20</text>
<line x1="271.4" y1="476.9" x2="274.4" y2="476.9" stroke="#222" stroke-width="0.9"/>
<text x="268.1" y="479.59999999999997" font-size="8.2" text-anchor="end" fill="#333" textLength="8" lengthAdjust="spacingAndGlyphs" stroke="#333" stroke-width="0.25">15</text>
<line x1="271.4" y1="504.5" x2="274.4" y2="504.5" stroke="#222" stroke-width="0.9"/>
<text x="268.1" y="507.2" font-size="8.2" text-anchor="end" fill="#333" textLength="8" lengthAdjust="spacingAndGlyphs" stroke="#333" stroke-width="0.25">10</text>
<line x1="271.4" y1="531.8" x2="274.4" y2="531.8" stroke="#222" stroke-width="0.9"/>
<text x="268.1" y="534.5" font-size="8.2" text-anchor="end" fill="#333" stroke="#333" stroke-width="0.25">5</text>
<line x1="271.4" y1="559.2" x2="274.4" y2="559.2" stroke="#222" stroke-width="0.9"/>
<text x="268.1" y="561.9000000000001" font-size="8.2" text-anchor="end" fill="#333" stroke="#333" stroke-width="0.25">0</text>
<line x1="272" y1="559.2" x2="365.4" y2="559.2" stroke="#333" stroke-width="1.4"/>
<line x1="292.5" y1="559.2" x2="292.5" y2="562" stroke="#333" stroke-width="0.8"/>
<line x1="320" y1="559.2" x2="320" y2="562" stroke="#333" stroke-width="0.8"/>
<line x1="347.3" y1="559.2" x2="347.3" y2="562" stroke="#333" stroke-width="0.8"/>
<text x="292.5" y="570.9" font-size="8.2" text-anchor="middle" fill="#333" textLength="9" lengthAdjust="spacingAndGlyphs" stroke="#333" stroke-width="0.25">SS</text>
<text x="320.2" y="570.9" font-size="8.2" text-anchor="middle" fill="#333" textLength="15" lengthAdjust="spacingAndGlyphs" stroke="#333" stroke-width="0.25">L-SS</text>
<text x="347.75" y="570.9" font-size="8.2" text-anchor="middle" fill="#333" textLength="16.5" lengthAdjust="spacingAndGlyphs" stroke="#333" stroke-width="0.25">H-SS</text>
<line x1="288.1" y1="464.2" x2="347.6" y2="464.2" stroke="#333" stroke-width="1"/>
<text x="317.75" y="461.1" font-size="8.2" text-anchor="middle" fill="#333" textLength="10.1" lengthAdjust="spacingAndGlyphs" stroke="#333" stroke-width="0.25">NS</text>
<text x="0" y="0" font-size="8.4" fill="#333" stroke="#333" stroke-width="0.25" transform="translate(253.6 542.1) rotate(-90)" textLength="37.50" lengthAdjust="spacingAndGlyphs">PAI-1 (ng/2</text>
<text x="0" y="0" font-size="7.0" fill="#333" stroke="#333" stroke-width="0.25" transform="translate(253.0 502.5) rotate(-90)" textLength="3.50" lengthAdjust="spacingAndGlyphs">×</text>
<text x="0" y="0" font-size="8.4" fill="#333" stroke="#333" stroke-width="0.25" transform="translate(253.6 496.0) rotate(-90)" textLength="8.80" lengthAdjust="spacingAndGlyphs">10</text>
<text x="0" y="0" font-size="5.4" fill="#333" stroke="#333" stroke-width="0.25" transform="translate(249.0 486.9) rotate(-90)" textLength="3.60" lengthAdjust="spacingAndGlyphs">6</text>
<text x="0" y="0" font-size="8.4" fill="#333" stroke="#333" stroke-width="0.25" transform="translate(253.6 482.5) rotate(-90)" textLength="17.00" lengthAdjust="spacingAndGlyphs">MVs)</text>
<line x1="283.8" y1="534.2" x2="301.7" y2="534.2" stroke="#333" stroke-width="1.1"/>
<line x1="311.2" y1="527.5" x2="329.3" y2="527.5" stroke="#333" stroke-width="1.1"/>
<line x1="341" y1="548.2" x2="354.3" y2="548.2" stroke="#333" stroke-width="1.1"/>
<circle cx="299" cy="476.9" r="1.95" fill="#C8102E"/>
<circle cx="347.6" cy="477" r="1.95" fill="#C8102E"/>
<circle cx="285.8" cy="548.3" r="1.95" fill="#C8102E"/>
<circle cx="299.2" cy="548.3" r="1.95" fill="#C8102E"/>
<circle cx="341" cy="548.2" r="1.95" fill="#C8102E"/>
<circle cx="354.3" cy="548.2" r="1.95" fill="#C8102E"/>
<circle cx="286" cy="476.9" r="1.95" fill="#0B4A8C"/>
<circle cx="320" cy="476.9" r="1.95" fill="#0B4A8C"/>
<circle cx="292.5" cy="527.5" r="1.95" fill="#0B4A8C"/>
<circle cx="292.5" cy="541.9" r="1.95" fill="#0B4A8C"/>
<circle cx="320" cy="527.5" r="1.95" fill="#0B4A8C"/>
<circle cx="320" cy="541.9" r="1.95" fill="#0B4A8C"/>
<rect x="0.6" y="0.6" width="518.8" height="576.8" fill="none" stroke="#000" stroke-width="1.2"/>
</svg></body></html>
